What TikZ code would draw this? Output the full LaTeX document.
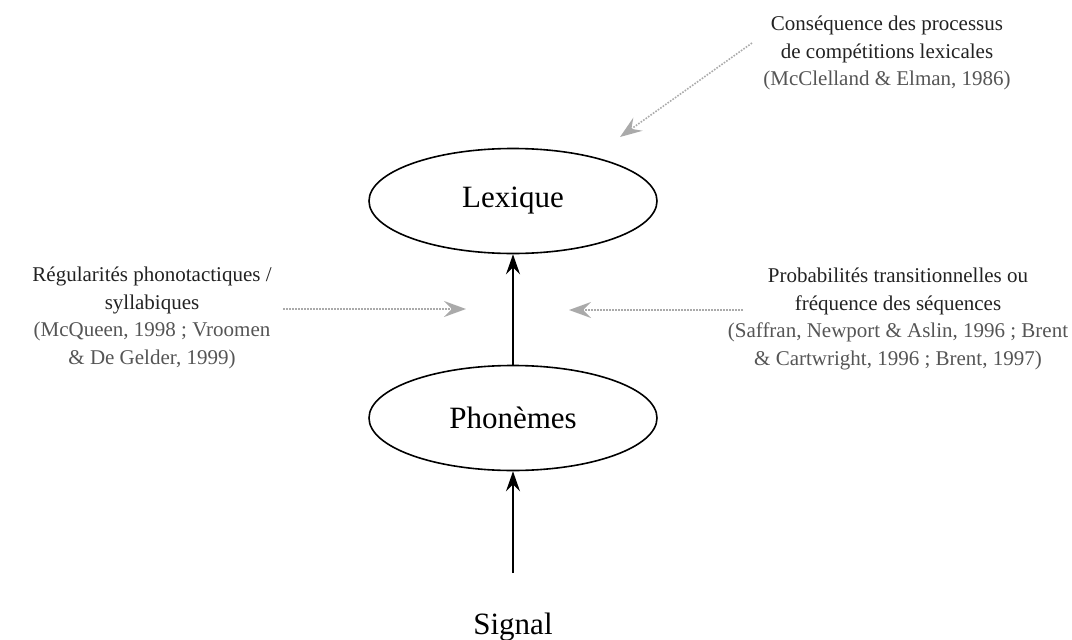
\documentclass[tikz,border=0pt]{standalone}
\usepackage{fontspec}
\setmainfont{Liberation Serif}
\usetikzlibrary{shapes.geometric}
\usetikzlibrary{arrows.meta}

\definecolor{notegray}{HTML}{222222}
\definecolor{refgray}{HTML}{555555}
\definecolor{cuegray}{HTML}{AAAAAA}

\begin{document}
\begin{tikzpicture}[x=1pt,y=-1pt,
  level/.style={ellipse,draw,line width=1.6pt,minimum width=288pt,minimum height=105pt,inner sep=0pt,font=\fontsize{31}{36}\selectfont},
  note/.style={align=center,text=notegray,font=\fontsize{21}{27.5}\selectfont},
  flow/.style={line width=1.6pt,-{Stealth[length=20pt,width=14pt,inset=7pt]}},
  cue/.style={cuegray,line width=1.6pt,dash pattern=on 1.6pt off 1.4pt,-{Stealth[length=22pt,width=16pt,inset=8pt]}}]
\useasboundingbox (0,0) rectangle (1072,640);

\node[level] (lexique) at (513,201) {Lexique};
\node[level] (phonemes) at (513,418) {Phon\`emes};
\node[font=\fontsize{31}{36}\selectfont,anchor=base] (signal) at (513,634) {Signal};
\coordinate (signaltop) at (513,573);

\draw[flow] (phonemes.north) -- (lexique.south);
\draw[flow] (signaltop) -- (phonemes.south);

% sources of the lexical cues
\node[note] (competition) at (887,53) {Cons\'equence des processus\\de comp\'etitions lexicales\\\textcolor{refgray}{(McClelland \& Elman, 1986)}};
\node[note] (regularites) at (152,318) {R\'egularit\'es phonotactiques /\\syllabiques\\\textcolor{refgray}{(McQueen, 1998 ; Vroomen}\\\textcolor{refgray}{\& De Gelder, 1999)}};
\node[note] (probabilites) at (898,319) {Probabilit\'es transitionnelles ou\\fr\'equence des s\'equences\\\textcolor{refgray}{(Saffran, Newport \& Aslin, 1996 ; Brent}\\\textcolor{refgray}{\& Cartwright, 1996 ; Brent, 1997)}};

\coordinate (competitionstart) at (752,43);
\coordinate (competitionend) at (620,137);
\coordinate (regularitesstart) at (283,309);
\coordinate (regularitesend) at (466,309);
\coordinate (probabilitesstart) at (743,310);
\coordinate (probabilitesend) at (569,310);

\draw[cue] (competitionstart) -- (competitionend);
\draw[cue] (regularitesstart) -- (regularitesend);
\draw[cue] (probabilitesstart) -- (probabilitesend);

\end{tikzpicture}
\end{document}
